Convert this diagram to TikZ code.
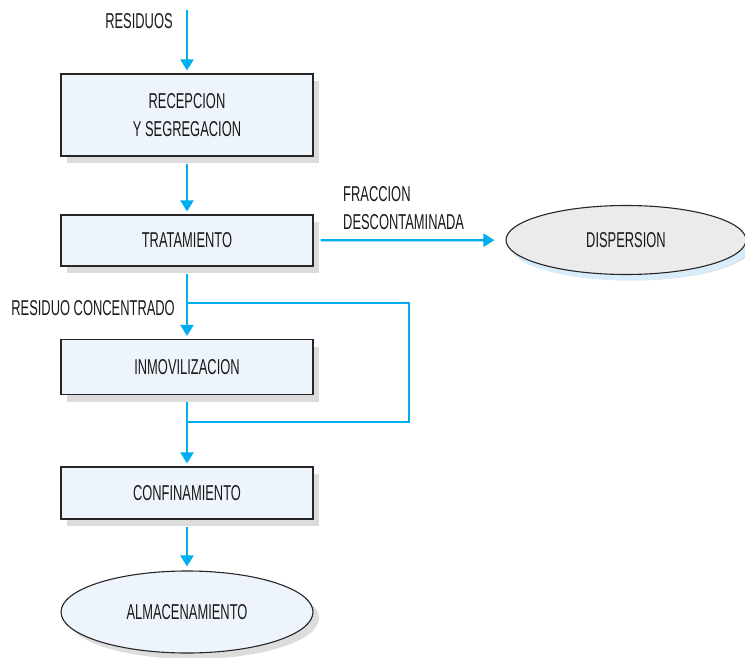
\documentclass[tikz,border=0pt]{standalone}
\usepackage{fontspec}
\setmainfont[FakeStretch=0.6]{Liberation Sans}
\usetikzlibrary{arrows.meta,shadows,shapes.geometric}
\definecolor{flowblue}{HTML}{00AEEF}
\definecolor{boxfill}{HTML}{EEF4FB}
\definecolor{shadegray}{HTML}{DCDCDC}
\definecolor{ovalgray}{HTML}{EBEBEB}
\definecolor{shadeblue}{HTML}{D9ECFA}
\definecolor{inkgray}{HTML}{1A1718}
\tikzset{
  stage/.style={draw=black!85, line width=1.1pt, fill=boxfill, minimum width=252pt,
    inner sep=0pt, align=center,
    drop shadow={shadow xshift=6pt, shadow yshift=-7pt, fill=shadegray, opacity=1}},
  store/.style={ellipse, draw=black!85, line width=1.1pt, fill=boxfill, inner sep=0pt,
    drop shadow={shadow xshift=6pt, shadow yshift=-6pt, fill=shadegray, opacity=1}},
  flow/.style={draw=flowblue, line width=2.2pt, -{Triangle[width=13pt,length=11pt]}},
  flowline/.style={draw=flowblue, line width=2.2pt},
  tag/.style={inner sep=0pt, align=left}
}
\begin{document}
\begin{tikzpicture}[x=1pt, y=-1pt, font=\fontsize{21.5}{28}\selectfont, text=inkgray]
  %%%%% START %%%%%
  \useasboundingbox (0,0) rectangle (745,658);

  % etapas
  \node[stage, minimum height=82pt] (recep) at (187,115) {RECEPCION\\Y SEGREGACION};
  \node[stage, minimum height=51pt] (trat) at (187,240.5) {TRATAMIENTO};
  \node[stage, minimum height=55pt] (inmov) at (187,367) {INMOVILIZACION};
  \node[stage, minimum height=52pt] (conf) at (187,493) {CONFINAMIENTO};

  \node[store, minimum width=252pt, minimum height=82pt] (alma) at (187,612) {ALMACENAMIENTO};
  \node[store, fill=ovalgray, minimum width=240pt, minimum height=69pt,
    drop shadow={shadow xshift=4pt, shadow yshift=-6pt, fill=shadeblue, opacity=1}]
    (disp) at (626,240) {DISPERSION};

  % textos
  \node[tag] (lres) at (139,21) {RESIDUOS};
  \node[tag, anchor=west] (lfrac) at (343,208) {FRACCION\\DESCONTAMINADA};
  \node[tag, anchor=east] (lconc) at (175,308) {RESIDUO CONCENTRADO};

  % flujo
  \coordinate (in) at (187,10);
  \coordinate (split) at (187,303);
  \coordinate (merge) at (187,422);
  \coordinate (loop) at (409,303);

  \draw[flow, shorten >=3pt] (in) -- (recep);
  \draw[flow, shorten <=7pt, shorten >=3pt] (recep) -- (trat);
  \draw[flow, shorten <=7pt, shorten >=11pt] (trat) -- (disp);
  \draw[flow, shorten <=7pt, shorten >=3pt] (trat) -- (inmov);
  \draw[flowline] (split) -- (loop) |- (merge);
  \draw[flow, shorten <=7pt, shorten >=3pt] (inmov) -- (conf);
  \draw[flow, shorten <=7pt, shorten >=4pt] (conf) -- (alma);

  %%%%% END %%%%%
\end{tikzpicture}
\end{document}
